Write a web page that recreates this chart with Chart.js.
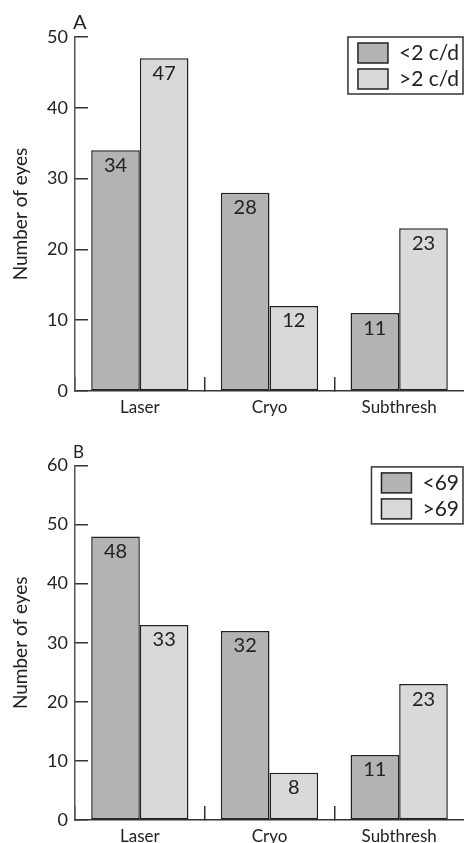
<!DOCTYPE html>
<html>
<head>
<meta charset="utf-8">
<script src="https://cdn.jsdelivr.net/npm/chart.js@4.4.0/dist/chart.umd.min.js"></script>
<style>
    html, body { margin: 0; padding: 0; background: #fff; overflow: hidden; }
    #quadro { position: relative; width: 464px; height: 843px; overflow: hidden; }
    canvas { position: absolute; left: 0; }
</style>
</head>
<body>
<div id="quadro">
    <canvas id="graficoA" width="464" height="423" style="top:0px"></canvas>
    <canvas id="graficoB" width="464" height="431" style="top:421px"></canvas>
</div>
<script>
const categorias = ['Laser', 'Cryo', 'Subthresh'];

// painel A
const legendaA = ['<2 c/d', '>2 c/d'];
const menor2cd = [34, 28, 11];
const maior2cd = [47, 12, 23];
const ticksA = [0, 10, 20, 30, 40, 50];

// painel B
const legendaB = ['<69', '>69'];
const menor69 = [48, 32, 11];
const maior69 = [33, 8, 23];
const ticksB = [0, 10, 20, 30, 40, 50, 60];

const fonte = 'Lato';
const corTexto = '#222';

// numeros dentro das barras, letra do painel e caixa da legenda
const extrasPlugin = {
    id: 'extras',
    afterDatasetsDraw(chart, args, opts) {
        let ctx = chart.ctx;
        let area = chart.chartArea;
        ctx.save();

        ctx.font = '20px ' + fonte;
        ctx.fillStyle = corTexto;
        ctx.textAlign = 'center';
        ctx.textBaseline = 'middle';
        chart.data.datasets.forEach(function(ds, i) {
            chart.getDatasetMeta(i).data.forEach(function(barra, j) {
                ctx.fillText(String(ds.data[j]), barra.x, barra.y + 15);
            });
        });

        ctx.font = opts.tamanhoLetra + 'px ' + fonte;
        ctx.textAlign = 'left';
        ctx.textBaseline = 'alphabetic';
        ctx.fillText(opts.letra, area.left - 2, area.top - 8);

        ctx.font = '21px ' + fonte;
        let larguraTexto = 0;
        chart.data.datasets.forEach(function(ds) {
            larguraTexto = Math.max(larguraTexto, ctx.measureText(ds.label).width);
        });
        let direita = area.right - 1;
        let esquerda = direita - (10 + 30 + 11 + larguraTexto + 4);
        let topo = area.top + opts.deslocLegenda;
        ctx.fillStyle = '#fff';
        ctx.fillRect(esquerda, topo, direita - esquerda, 57);
        ctx.strokeStyle = '#333';
        ctx.lineWidth = 1.5;
        ctx.strokeRect(esquerda, topo, direita - esquerda, 57);

        ctx.textBaseline = 'middle';
        chart.data.datasets.forEach(function(ds, i) {
            let y = topo + 6 + i * 26;
            ctx.fillStyle = ds.backgroundColor;
            ctx.fillRect(esquerda + 10, y, 30, 20);
            ctx.strokeStyle = ds.borderColor;
            ctx.strokeRect(esquerda + 10, y, 30, 20);
            ctx.fillStyle = corTexto;
            ctx.fillText(ds.label, esquerda + 51, y + 10);
        });
        ctx.restore();
    }
};

function criarGrafico(canvasId, letra, tamanhoLetra, legenda, serie1, serie2, ticks, paddingTopo, deslocLegenda) {
    let ctx = document.getElementById(canvasId).getContext('2d');
    new Chart(ctx, {
        type: 'bar',
        data: {
            labels: categorias,
            datasets: [
                {
                    label: legenda[0],
                    data: serie1,
                    backgroundColor: '#b3b3b3',
                    borderColor: '#222',
                    borderWidth: 1.5,
                    borderSkipped: false
                }, {
                    label: legenda[1],
                    data: serie2,
                    backgroundColor: '#d9d9d9',
                    borderColor: '#222',
                    borderWidth: 1.5,
                    borderSkipped: false
                }
            ]
        },
        options: {
            responsive: false,
            animation: false,
            layout: { padding: { top: paddingTopo, left: 0, right: 0, bottom: 0 } },
            datasets: { bar: { categoryPercentage: 0.75, barPercentage: 1.0 } },
            plugins: {
                legend: { display: false },
                tooltip: { enabled: false },
                extras: { letra: letra, tamanhoLetra: tamanhoLetra, deslocLegenda: deslocLegenda }
            },
            scales: {
                x: {
                    offset: true,
                    afterFit: function(scale) { scale.height = 32; },
                    border: { display: true, color: '#333', width: 1.5 },
                    grid: {
                        offset: true,
                        drawOnChartArea: false,
                        tickLength: -14,
                        lineWidth: 1.5,
                        color: function(c) { return c.type === 'tick' ? '#333' : 'rgba(0,0,0,0)'; }
                    },
                    ticks: { padding: 20, color: corTexto, font: { family: fonte, size: 17 } }
                },
                y: {
                    min: ticks[0],
                    max: ticks[ticks.length - 1],
                    afterBuildTicks: function(scale) {
                        scale.ticks = ticks.map(function(v) { return { value: v }; });
                    },
                    afterFit: function(scale) { scale.width = 75; },
                    border: { display: true, color: '#555', width: 1.5 },
                    grid: { drawOnChartArea: false, tickLength: -13, lineWidth: 1.5, color: '#333' },
                    ticks: { padding: 20, color: corTexto, font: { family: fonte, size: 18 } },
                    title: {
                        display: true,
                        text: 'Number of eyes',
                        color: corTexto,
                        font: { family: fonte, size: 19 },
                        padding: { top: 9, bottom: 0 }
                    }
                }
            }
        },
        plugins: [extrasPlugin]
    });
}

criarGrafico('graficoA', 'A', 20, legendaA, menor2cd, maior2cd, ticksA, 37, 0);
criarGrafico('graficoB', 'B', 17, legendaB, menor69, maior69, ticksB, 44.5, 1.4);
</script>
</body>
</html>
